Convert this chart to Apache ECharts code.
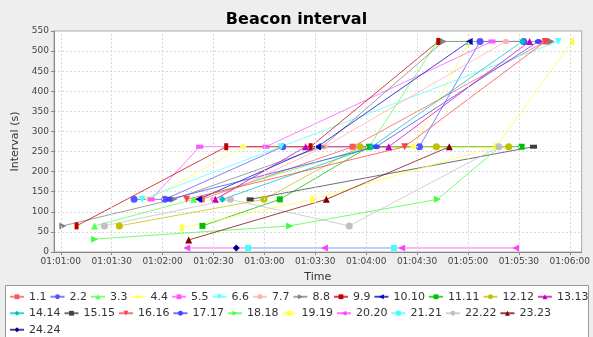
<!DOCTYPE html>
<html><head><meta charset="utf-8">
<script src="https://cdn.jsdelivr.net/npm/echarts@6/dist/echarts.min.js"></script>
<style>html,body{margin:0;padding:0;background:#eeeeee}#c{width:593px;height:337px}</style>
</head><body><div id="c"></div>
<script>
// Time is in seconds after 01:00:00, interval in seconds
const xTicks = [60, 90, 120, 150, 180, 210, 240, 270, 300, 330, 360];
const yTicks = [0, 50, 100, 150, 200, 250, 300, 350, 400, 450, 500, 550];

const names = ['1.1','2.2','3.3','4.4','5.5','6.6','7.7','8.8','9.9','10.10','11.11','12.12',
  '13.13','14.14','15.15','16.16','17.17','18.18','19.19','20.20','21.21','22.22','23.23','24.24'];

const pts_1_1   = [[143, 131], [232, 262], [345.6, 524]];
const pts_2_2   = [[103.2, 131], [121.3, 131], [190.8, 262], [271.4, 262], [307.1, 524], [332.8, 524]];
const pts_3_3   = [[79.9, 65], [138.3, 131], [241.7, 262], [282, 524], [300.7, 524]];
const pts_4_4   = [[112, 131], [167.5, 262], [267.9, 262], [300.7, 524]];
const pts_5_5   = [[113.2, 131], [141.8, 262], [180.9, 262], [314.1, 524]];
const pts_6_6   = [[107.9, 131], [189.7, 262], [353.2, 524]];
const pts_7_7   = [[150, 131], [215.4, 262], [322.3, 524]];
const pts_8_8   = [[61.2, 65], [126.6, 131], [214.2, 262], [285.5, 524], [349.1, 524]];
const pts_9_9   = [[69.3, 65], [157.5, 262], [207.2, 262], [282.5, 524]];
const pts_10_10 = [[141.2, 131], [211.3, 262], [300.7, 524]];
const pts_11_11 = [[143.5, 65], [189.1, 131], [241.7, 262], [331.6, 262]];
const pts_12_12 = [[94.5, 65], [179.7, 131], [236.4, 262], [281.4, 262], [324, 262]];
const pts_13_13 = [[151.1, 131], [204.3, 262], [253.3, 262], [336.3, 524]];
const pts_14_14 = [[155.2, 131], [243.4, 262], [332, 524]];
const pts_15_15 = [[171.6, 131], [338.6, 262]];
const pts_16_16 = [[134.2, 131], [262.7, 262], [345.6, 524]];
const pts_17_17 = [[123.7, 131], [246, 262], [341.5, 524]];
const pts_18_18 = [[79.9, 32], [194.9, 65], [282, 131], [318.8, 262]];
const pts_19_19 = [[131.3, 60], [208.4, 131], [316.4, 262], [361.4, 524]];
const pts_20_20 = [[134.2, 10], [215.4, 10], [260.9, 10], [328.1, 10]];
const pts_21_21 = [[170.4, 10], [256.3, 10]];
const pts_22_22 = [[85.7, 65], [159.9, 131], [230, 65], [318.2, 262]];
const pts_23_23 = [[135.4, 30], [216.5, 131], [289, 262]];
const pts_24_24 = [[163.4, 10]];

const allPts = [pts_1_1, pts_2_2, pts_3_3, pts_4_4, pts_5_5, pts_6_6, pts_7_7, pts_8_8, pts_9_9,
  pts_10_10, pts_11_11, pts_12_12, pts_13_13, pts_14_14, pts_15_15, pts_16_16, pts_17_17,
  pts_18_18, pts_19_19, pts_20_20, pts_21_21, pts_22_22, pts_23_23, pts_24_24];

const colors = ['#ff5555','#5555ff','#55ff55','#ffff55','#ff55ff','#55ffff','#ffafaf','#808080',
  '#c00000','#0000c0','#00c000','#c0c000','#c000c0','#00c0c0','#404040','#ff4040','#4040ff',
  '#40ff40','#ffff40','#ff40ff','#40ffff','#c0c0c0','#800000','#000080'];

// marker shapes cycle: square, circle, up, diamond, h-rect, down, ellipse, right, v-rect, left
const shapes = [
  {symbol: 'rect', size: 6, rot: 0},
  {symbol: 'circle', size: 7, rot: 0},
  {symbol: 'triangle', size: 7, rot: 0},
  {symbol: 'diamond', size: 7, rot: 0},
  {symbol: 'rect', size: [7, 4], rot: 0},
  {symbol: 'triangle', size: 7, rot: 180},
  {symbol: 'circle', size: [7, 5], rot: 0},
  {symbol: 'triangle', size: 7, rot: -90},
  {symbol: 'rect', size: [4, 7], rot: 0},
  {symbol: 'triangle', size: 7, rot: 90}
];

const pad = n => String(n).padStart(2, '0');
const fmtTime = v => '01:' + pad(Math.floor(v / 60)) + ':' + pad(Math.round(v % 60));

const series = names.map((n, i) => {
  const sh = shapes[i % 10];
  return {
    name: n, type: 'line', data: allPts[i],
    symbol: sh.symbol, symbolSize: sh.size, symbolRotate: sh.rot,
    showAllSymbol: true,
    itemStyle: {color: colors[i]},
    lineStyle: {color: colors[i], width: 1, opacity: 0.75},
    emphasis: {disabled: true}, animation: false
  };
});

// vertical grid lines at the labelled times
series.push({
  name: '_grid', type: 'line', data: [], silent: true, animation: false,
  markLine: {
    silent: true, symbol: 'none', label: {show: false}, animation: false,
    lineStyle: {color: '#d8d8d8', type: [2, 2], width: 1},
    data: xTicks.map(v => ({xAxis: v}))
  }
});

const chart = echarts.init(document.getElementById('c'), null, {renderer: 'canvas'});
chart.setOption({
  backgroundColor: '#eeeeee',
  animation: false,
  title: {
    text: 'Beacon interval', left: 'center', top: 7,
    textStyle: {fontFamily: 'DejaVu Sans', fontWeight: 'bold', fontSize: 16, color: '#000'}
  },
  graphic: [{
    type: 'rect', left: 5, top: 285, z: -1,
    shape: {width: 583, height: 60},
    style: {fill: '#ffffff', stroke: '#999999', lineWidth: 1}
  }],
  legend: {
    data: names, left: 9, top: 290, width: 580, itemGap: 3,
    itemWidth: 14, itemHeight: 6,
    textStyle: {fontFamily: 'DejaVu Sans', fontSize: 11, color: '#333', lineHeight: 13.5},
    padding: 0
  },
  grid: {
    left: 54, right: 8, top: 31, bottom: 85,
    show: true, backgroundColor: '#ffffff', borderColor: '#aaaaaa', borderWidth: 1
  },
  xAxis: {
    type: 'value', min: 56, max: 367,
    name: 'Time', nameLocation: 'middle', nameGap: 20,
    nameTextStyle: {fontFamily: 'DejaVu Sans', fontSize: 11, color: '#333'},
    axisLine: {show: true, onZero: false, lineStyle: {color: '#888'}},
    axisTick: {show: true, customValues: xTicks, length: 3, lineStyle: {color: '#888'}},
    axisLabel: {customValues: xTicks, formatter: fmtTime, fontFamily: 'DejaVu Sans', fontSize: 9, color: '#444', margin: 5},
    splitLine: {show: false}
  },
  yAxis: {
    type: 'value', min: 0, max: 550, interval: 50,
    name: 'Interval (s)', nameLocation: 'middle', nameGap: 29, nameRotate: 90,
    nameTextStyle: {fontFamily: 'DejaVu Sans', fontSize: 11, color: '#333'},
    axisLine: {show: true, lineStyle: {color: '#888'}},
    axisTick: {show: true, length: 3, lineStyle: {color: '#888'}},
    axisLabel: {fontFamily: 'DejaVu Sans', fontSize: 9, color: '#444', margin: 5},
    splitLine: {show: true, lineStyle: {color: '#d8d8d8', type: [2, 2], width: 1}}
  },
  series: series
});
</script>
</body></html>
